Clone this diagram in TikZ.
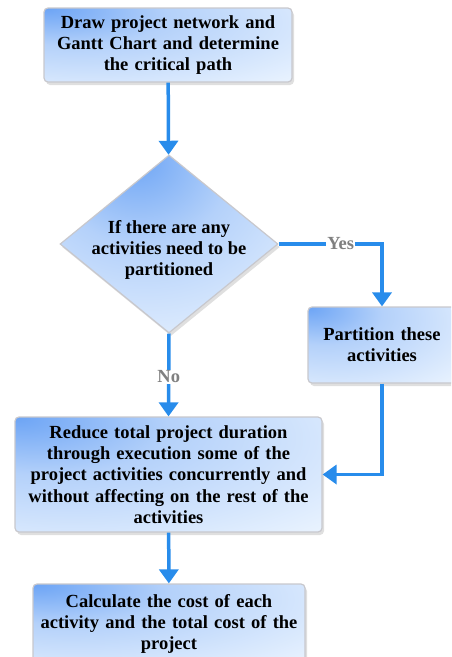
\documentclass[tikz,border=0pt]{standalone}
\usepackage{fontspec}
\setmainfont{Liberation Serif}
\usetikzlibrary{arrows.meta,shapes.geometric,shadows}
\definecolor{boxblue}{RGB}{108,164,245}
\definecolor{boxmid}{RGB}{180,209,250}
\definecolor{boxpale}{RGB}{238,246,255}
\definecolor{flowblue}{RGB}{40,140,235}
\definecolor{boxline}{RGB}{200,200,205}
\definecolor{labelgray}{RGB}{128,128,128}
\pgfdeclareradialshading{boxglow}{\pgfpoint{-25bp}{25bp}}{color(0bp)=(boxblue); color(20bp)=(boxmid); color(55bp)=(boxpale); color(100bp)=(boxpale)}
\pgfdeclareradialshading{decglow}{\pgfpoint{-8bp}{25bp}}{color(0bp)=(boxblue); color(20bp)=(boxmid); color(50bp)=(boxpale); color(100bp)=(boxpale)}
\begin{document}
\begin{tikzpicture}[x=1pt,y=-1pt]
    \tikzset{every node/.append style={font=\bfseries\fontsize{18.5}{21.3}\selectfont},
      flowbox/.style={rectangle, rounded corners=4pt, draw=boxline, line width=1.2pt,
        shade, shading=boxglow,
        drop shadow={opacity=0.25, shadow xshift=2pt, shadow yshift=-3pt},
        align=center, inner sep=2pt},
      decision/.style={diamond, draw=boxline, line width=1.2pt, inner sep=0pt,
        shade, shading=decglow,
        drop shadow={opacity=0.25, shadow xshift=2pt, shadow yshift=-3pt},
        minimum width=218pt, minimum height=178pt},
      dectext/.style={align=center, inner sep=0pt},
      flow/.style={draw=flowblue, line width=3.5pt, -{Triangle[length=14pt,width=19pt]}},
      answer/.style={text=labelgray, fill=white, inner sep=1pt}}
    \clip (0,0) rectangle (451,657);
    \node [flowbox, minimum width=248pt, minimum height=74pt, text width=240pt] (network) at (168,45)
      {Draw project network and\\ Gantt Chart and determine\\ the critical path};
    \node [decision] (partq) at (169,244) {};
    \node [dectext] (partqtext) at (169,250) {If there are any\\ activities need to be\\ partitioned};
    \node [flowbox, minimum width=148pt, minimum height=76pt, text width=140pt] (partition) at (382,345)
      {Partition these\\ activities};
    \node [flowbox, minimum width=307pt, minimum height=115pt, text width=300pt] (reduce) at (168.5,474.5)
      {Reduce total project duration\\ through execution some of the\\ project activities concurrently and\\ without affecting on the rest of the\\ activities};
    \node [flowbox, minimum width=272pt, minimum height=80pt, text width=264pt] (cost) at (169,624)
      {Calculate the cost of each\\ activity and the total cost of the\\ project};
    \draw [flow] (network) -- (partq);
    \draw [flow] (partq.east) -| node [answer, pos=0.3] {Yes} (partition.north);
    \draw [flow] (partq.south) -- node [answer, pos=0.52] {No} (reduce.north);
    \draw [flow] (partition.south) |- (reduce.east);
    \draw [flow] (reduce) -- (cost);
\end{tikzpicture}
\end{document}
